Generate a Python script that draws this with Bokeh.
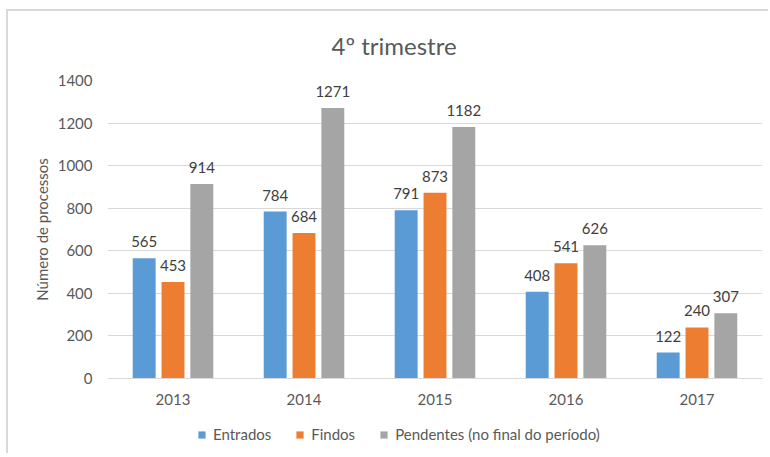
from bokeh.plotting import figure
from bokeh.layouts import column
from bokeh.models import FactorRange, Range1d, ColumnDataSource, Legend, LegendItem, Title, FixedTicker, LabelSet
from bokeh.transform import dodge
from bokeh.core.properties import value
from bokeh.embed import file_html
from bokeh.resources import INLINE

years = ["2013", "2014", "2015", "2016", "2017"]
entrados = [565, 784, 791, 408, 122]
findos = [453, 684, 873, 541, 240]
pendentes = [914, 1271, 1182, 626, 307]
series_names = ["Entrados", "Findos", "Pendentes (no final do período)"]
colors = ["#5B9BD5", "#ED7D31", "#A5A5A5"]
y_ticks = [0, 200, 400, 600, 800, 1000, 1200, 1400]
title_text = "4º trimestre"
y_label = "Número de processos"

FONT = "Lato"
TXT = "#595959"

src = ColumnDataSource(dict(
    years=years,
    entrados=entrados, findos=findos, pendentes=pendentes,
    l_entrados=[str(v) for v in entrados],
    l_findos=[str(v) for v in findos],
    l_pendentes=[str(v) for v in pendentes],
))

p = figure(
    x_range=FactorRange(*years), y_range=Range1d(0, 1400),
    width=762, height=404, output_backend="svg", toolbar_location=None,
    min_border_left=99, min_border_right=8, min_border_top=67, min_border_bottom=37,
    styles={"border-top": "2px solid #d9d9d9", "border-left": "2px solid #d9d9d9",
            "margin-left": "6px", "margin-top": "9px"},
)
p.outline_line_color = None
p.background_fill_color = "white"
p.border_fill_color = "white"

offsets = [-0.22, 0.0, 0.22]
fields = ["entrados", "findos", "pendentes"]
for off, f, c in zip(offsets, fields, colors):
    p.vbar(x=dodge("years", off, range=p.x_range), top=f, width=0.175,
           source=src, fill_color=c, line_color=None)
    lab = LabelSet(x=dodge("years", off, range=p.x_range), y=f, text="l_" + f,
                   source=src, text_align="center", text_baseline="bottom",
                   y_offset=11, text_font=value(FONT), text_font_size=value("15px"),
                   text_color=value("#404040"))
    p.add_layout(lab)

p.yaxis.ticker = FixedTicker(ticks=y_ticks)
p.ygrid.grid_line_color = "#D9D9D9"
p.xgrid.grid_line_color = None
p.yaxis.axis_line_color = None
p.yaxis.major_tick_line_color = None
p.yaxis.minor_tick_line_color = None
p.yaxis.major_label_standoff = 9
p.yaxis.axis_label = y_label
p.yaxis.axis_label_standoff = 4
p.yaxis.axis_label_text_font = FONT
p.yaxis.axis_label_text_font_size = "15px"
p.yaxis.axis_label_text_font_style = "normal"
p.yaxis.axis_label_text_color = TXT
p.yaxis.major_label_text_font = FONT
p.yaxis.major_label_text_font_size = "15px"
p.yaxis.major_label_text_color = TXT

p.xaxis.axis_line_color = "#D9D9D9"
p.xaxis.major_tick_line_color = None
p.xaxis.minor_tick_line_color = None
p.xaxis.major_label_standoff = 9
p.xaxis.major_label_text_font = FONT
p.xaxis.major_label_text_font_size = "15px"
p.xaxis.major_label_text_color = TXT
p.x_range.range_padding = 0

title = Title(text=title_text, align="left", offset=224, standoff=38,
              vertical_align="top",
              text_font=FONT, text_font_size="24px", text_font_style="normal",
              text_color=TXT)
p.add_layout(title, "above")

# legend strip below the chart
pl = figure(width=762, height=40, output_backend="svg", toolbar_location=None,
            x_range=Range1d(0, 1), y_range=Range1d(0, 1),
            x_axis_location=None, y_axis_location=None, min_border=0,
            styles={"margin-left": "6px", "border-left": "2px solid #d9d9d9"})
pl.outline_line_color = None
pl.grid.visible = False
leg_renderers = [pl.vbar(x=[0], top=[0], width=0, fill_color=c, line_color=None)
                 for c in colors]
legend = Legend(
    items=[LegendItem(label=n, renderers=[r]) for n, r in zip(series_names, leg_renderers)],
    orientation="horizontal", location=(90, 10),
    glyph_width=9, glyph_height=9, label_standoff=7, spacing=24,
    padding=0, margin=0, border_line_color=None, background_fill_alpha=0,
    label_text_font=FONT, label_text_font_size="15px", label_text_color=TXT,
)
pl.add_layout(legend, "center")

layout = column(p, pl, spacing=0)
open("out.html", "w").write(file_html(layout, INLINE))
